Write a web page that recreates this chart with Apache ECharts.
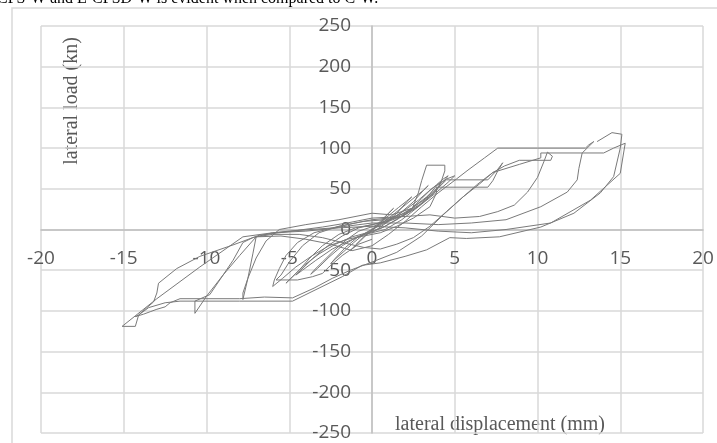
<!DOCTYPE html>
<html>
<head>
<meta charset="utf-8">
<script src="https://cdn.jsdelivr.net/npm/echarts@6/dist/echarts.min.js"></script>
<style>
  html, body { margin: 0; padding: 0; background: #fff; }
  #chart { width: 717px; height: 443px; }
</style>
</head>
<body>
<div id="chart"></div>
<script>
// axis ranges
const xMin = -20, xMax = 20, xStep = 5;
const yMin = -250, yMax = 250, yStep = 50;

// hysteresis record, split into loading cycles [displacement mm, load kN]
const cycle1 = [[0,0],[0.3,6],[0.7,14],[1.1,22],[1.3,26],[1.0,20],[0.6,10],[0.2,2],[-0.3,-6],[-0.7,-14],[-1.1,-22],[-1.3,-26],[-1.0,-19],[-0.5,-9],[0,-1]];
const cycle2 = [[0,-1],[0.5,8],[1.0,17],[1.6,27],[2.1,35],[2.4,40],[2.1,34],[1.5,20],[0.8,8],[0.2,2],[-0.5,-6],[-1.1,-16],[-1.7,-27],[-2.2,-36],[-2.5,-42],[-2.2,-35],[-1.6,-22],[-0.9,-10],[-0.2,-2]];
const cycle3 = [[-0.2,-2],[0.5,6],[1.2,17],[2.0,30],[2.6,40],[3.1,48],[3.4,54],[3.1,48],[2.5,34],[1.7,20],[0.9,10],[0.1,4],[-0.8,-2],[-1.5,-12],[-2.3,-26],[-3.0,-40],[-3.5,-50],[-3.7,-55],[-3.3,-48],[-2.6,-34],[-1.8,-20],[-0.9,-9],[0,-3]];
const cycle4 = [[0,-3],[0.8,4],[1.6,14],[2.4,26],[3.0,38],[3.5,48],[3.9,55],[4.3,62],[4.6,66],[4.3,58],[3.7,44],[2.9,30],[2.0,18],[1.0,10],[0,6],[-1,2],[-2,-6],[-3,-20],[-3.8,-36],[-4.4,-50],[-4.9,-60],[-5.2,-66],[-4.8,-58],[-4.1,-44],[-3.2,-30],[-2.2,-18],[-1.2,-9],[-0.3,-4]];
const cycle4b = [[0,-4],[1,10],[2,24],[2.8,36],[3.6,50],[4.2,58],[4.0,52],[3.3,40],[2.4,26],[1.4,14],[0.4,8],[-0.8,2],[-1.8,-8],[-2.8,-22],[-3.6,-36],[-4.3,-50],[-4.6,-56],[-4.2,-50],[-3.4,-38],[-2.4,-24],[-1.4,-14],[-0.4,-6]];
const cycle5 = [[-0.3,-4],[0.6,2],[1.5,12],[2.4,24],[2.8,45],[3.0,60],[3.3,79],[4.4,79],[4.4,72],[4.2,60],[3.9,48],[3.0,32],[2.0,20],[1.0,14],[0,12],[-1,8],[-2.4,2],[-3.5,-4],[-4.5,-16],[-5.2,-32],[-5.6,-48],[-5.9,-62],[-6.0,-70],[-5.4,-60],[-4.6,-46],[-3.6,-32],[-2.6,-20],[-1.5,-12],[-0.5,-8]];
const cycle5b = [[-0.4,-6],[0.8,0],[1.8,12],[2.8,28],[3.5,44],[4.0,56],[4.5,62],[5,66],[4.6,58],[3.8,44],[2.8,28],[1.8,16],[0.8,12],[-0.5,10],[-2,4],[-3.2,-4],[-4.2,-20],[-5,-40],[-5.5,-56],[-5.8,-62],[-4.5,-62],[-3.6,-58],[-3,-54],[-2.6,-46],[-1.8,-32],[-0.8,-18],[0,-12]];
const cycle6 = [[-0.5,-8],[0.5,-4],[1.5,4],[2.5,14],[3.5,28],[3.9,45],[3.9,52],[7.0,52],[7.3,60],[7.6,72],[7.9,82],[7.6,74],[7.0,61],[4.5,61],[4.2,55],[3.4,40],[2.4,26],[1.2,18],[0,20],[-2,12],[-4,6],[-5.6,0],[-6.4,-14],[-7.0,-35],[-7.5,-60],[-7.8,-78],[-7.8,-86],[-7.5,-60],[-7.2,-30],[-7.0,-9],[-6.0,-6],[-4.4,-6],[-3,-10],[-1.8,-16],[-0.5,-22]];
const cycle7 = [[-0.5,-22],[0.5,-24],[1.5,-18],[2.5,-10],[3.5,4],[4.5,22],[5.5,40],[6.5,56],[7.3,70],[8.0,78],[8.9,85],[10.8,85],[10.9,90],[10.6,95],[10.4,84],[10.0,64],[9.4,46],[8.6,30],[7.6,22],[6.5,16],[5.0,14],[3.5,18],[2,16],[0,14],[-1.5,8],[-3,3],[-4.5,-1],[-6,-4],[-7.2,-10],[-7.8,-16],[-8.4,-38],[-9.2,-62],[-9.8,-80],[-10.7,-88],[-10.7,-103],[-10.0,-82],[-9.0,-56],[-8.0,-32],[-7.0,-9],[-5.5,-8],[-4.0,-12],[-2.5,-18],[-1.2,-26],[0,-20]];
const cycle8 = [[0,-20],[1,-6],[2,10],[3,28],[4,45],[5.1,62],[5.8,73],[6.8,88],[7.6,100],[10,100],[12.9,100],[13.1,104],[13.4,108],[12.7,94],[12.5,75],[12.4,61],[11.8,46],[10.2,28],[8.1,12],[6,8],[4,6],[2,8],[0,8],[-2.3,2],[-4.4,-1],[-6.8,-7],[-8.4,-19],[-10.4,-33],[-11.8,-48],[-12.9,-66],[-13.0,-78],[-13.2,-89],[-13.6,-96],[-14.1,-105],[-14.3,-107],[-13.8,-104],[-13.4,-101],[-13.0,-98],[-12.5,-95],[-12.2,-90],[-11.6,-85],[-8,-85],[-6.5,-83],[-4.8,-84],[-3.5,-72],[-2.4,-60],[-1.3,-50],[0,-40]];
const cycle9 = [[0,-40],[1.5,-28],[3,-8],[4.3,18],[5.5,40],[6.4,56],[7.3,70],[8.9,80],[10.2,88],[10.2,94],[14.0,94],[14.6,100],[15.3,106],[15.0,69],[13.2,36],[10.8,8],[8.1,0],[6,-4],[4,-2],[2,2],[0,4],[-2,2],[-4,-2],[-6,-4],[-7.8,-9],[-10.4,-46],[-13.0,-85],[-15.1,-119],[-14.3,-119],[-14.1,-105],[-13.5,-96],[-12.5,-90],[-11.6,-88],[-8,-88],[-4.8,-88],[-3.2,-72],[-1.8,-58],[-0.6,-44],[0.5,-41]];
const cycle10 = [[0.5,-41],[2,-33],[3.3,-25],[4.7,-10],[5.7,-11],[7.7,-9],[10.2,3],[12.2,20],[13.8,45],[14.6,65],[15.0,100],[15.1,117],[15.1,119],[14.5,119],[13.6,108]];

const cycles = [cycle1, cycle2, cycle3, cycle4, cycle4b, cycle5, cycle5b, cycle6, cycle7, cycle8, cycle9, cycle10];

const chart = echarts.init(document.getElementById('chart'));

const labelFont = { fontFamily: 'Open Sans', fontSize: 19, color: '#595959' };

// plot box in pixels; axes are shifted onto the zero lines with offset
const gridLeft = 41, gridRight = 14, gridTop = 26, gridBottom = 10;
const plotW = 717 - gridLeft - gridRight;
const plotH = 443 - gridTop - gridBottom;
const xZeroShift = plotW * (0 - xMin) / (xMax - xMin);
const yZeroShift = plotH * (0 - yMin) / (yMax - yMin);

chart.setOption({
    animation: false,
    backgroundColor: '#fff',
    grid: { left: gridLeft, right: gridRight, top: gridTop, bottom: gridBottom, containLabel: false, outerBoundsMode: 'none' },
    xAxis: {
        type: 'value',
        position: 'bottom',
        offset: -yZeroShift,
        min: xMin, max: xMax, interval: xStep,
        axisLine: { onZero: false, lineStyle: { color: '#bfbfbf', width: 1.5 } },
        axisTick: { show: false },
        axisLabel: Object.assign({ margin: 20 }, labelFont),
        splitLine: { show: true, lineStyle: { color: '#d9d9d9', width: 1.5 } }
    },
    yAxis: {
        type: 'value',
        position: 'left',
        offset: -xZeroShift,
        min: yMin, max: yMax, interval: yStep,
        axisLine: { onZero: false, lineStyle: { color: '#bfbfbf', width: 1.5 } },
        axisTick: { show: false },
        axisLabel: Object.assign({ margin: 21 }, labelFont),
        splitLine: { show: true, lineStyle: { color: '#d9d9d9', width: 1.5 } }
    },
    series: cycles.map(c => ({
        type: 'line',
        data: c,
        symbol: 'none',
        silent: true,
        lineStyle: { color: '#7a7a7a', width: 1 }
    })),
    graphic: [
        {
            type: 'rect', z: -10, silent: true,
            shape: { x: 12, y: 8, width: 720, height: 450 },
            style: { fill: 'none', stroke: '#d9d9d9', lineWidth: 1.5 }
        },
        {
            type: 'text', left: -3, top: -9, silent: true,
            style: { text: 'CFS-W and E-CFSD-W is evident when compared to C-W.', font: '16px "Liberation Serif"', fill: '#000' }
        },
        {
            type: 'text', silent: true,
            x: 72, y: 101, rotation: Math.PI / 2,
            style: { text: 'lateral load (kn)', font: '20px "Liberation Serif"', fill: '#595959', align: 'center', verticalAlign: 'middle' }
        },
        {
            type: 'text', silent: true,
            x: 500, y: 425,
            style: { text: 'lateral displacement (mm)', font: '20px "Liberation Serif"', fill: '#595959', align: 'center', verticalAlign: 'middle' }
        }
    ]
});
</script>
</body>
</html>
